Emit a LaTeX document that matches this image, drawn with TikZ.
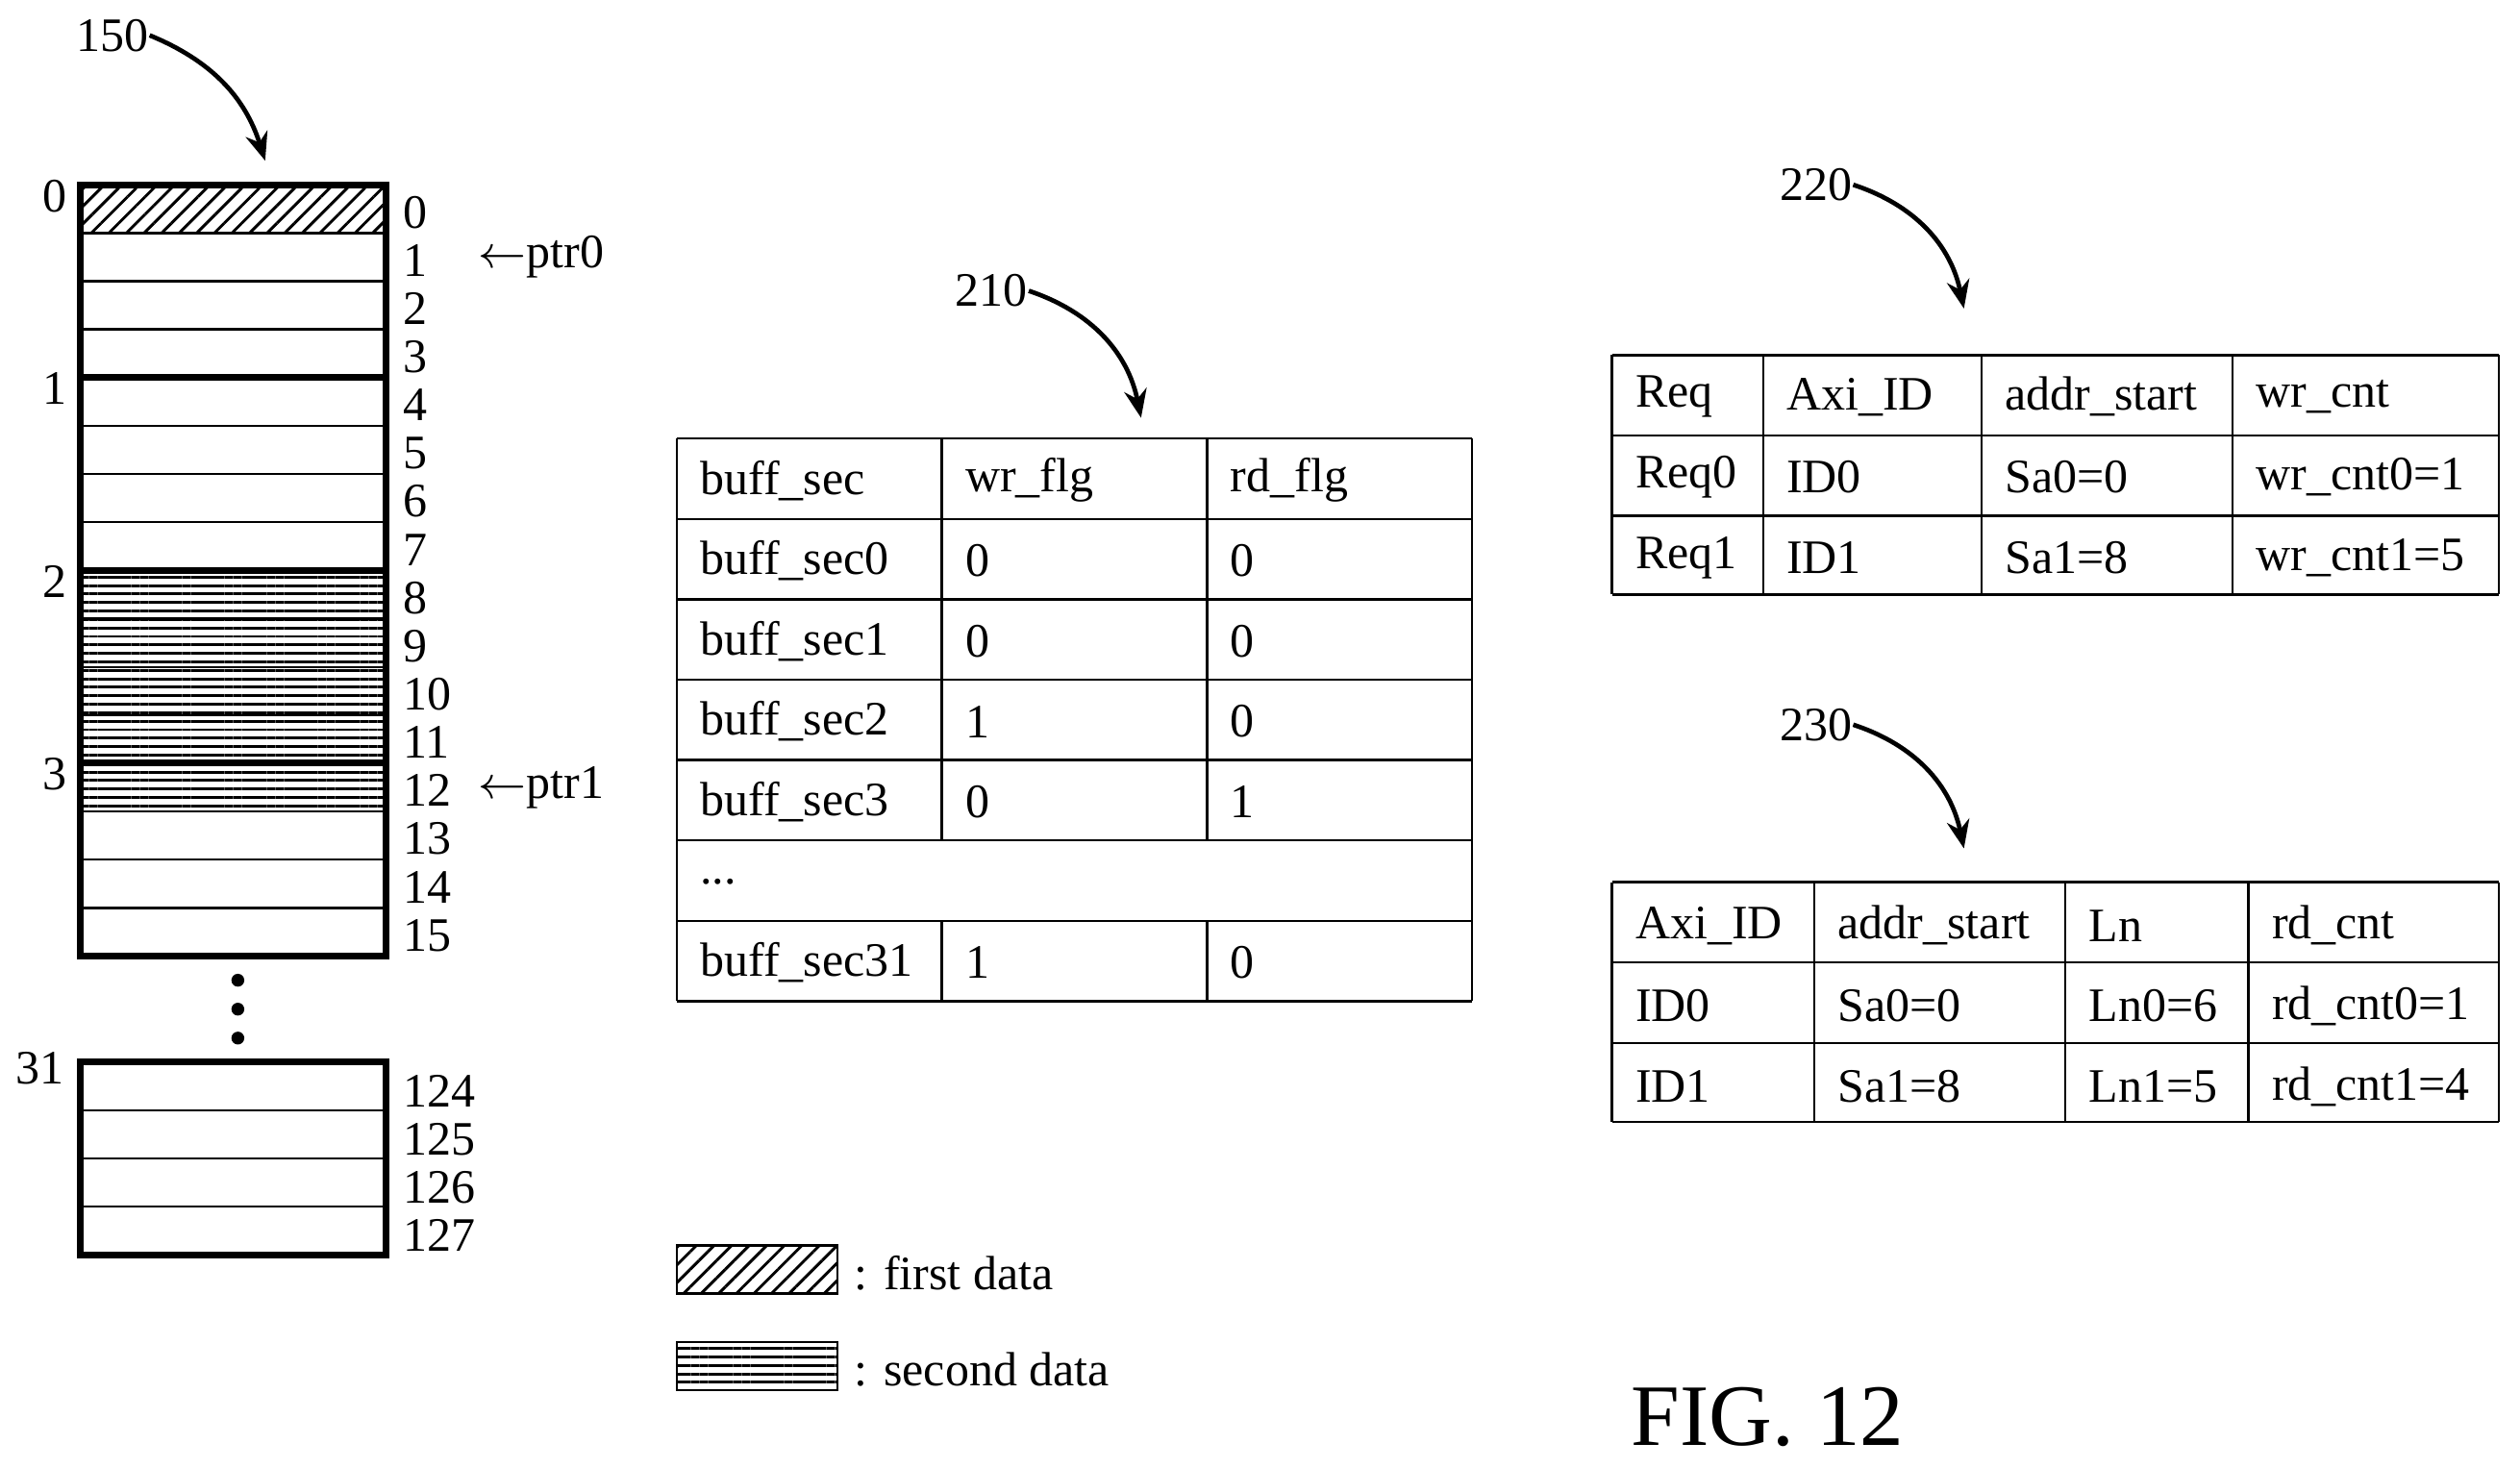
\documentclass[tikz,border=0pt]{standalone}
\usepackage{fontspec}
\setmainfont{Liberation Serif}
\usetikzlibrary{positioning,arrows.meta,patterns.meta}
\tikzset{
  txt/.style={font=\fontsize{8.5}{10}\selectfont, inner sep=0pt},
  cell/.style={txt, anchor=west},
  num/.style={txt, anchor=west},
  ref/.style={-{Stealth[length=5pt,width=4pt]}, thick},
  first/.style={pattern={Lines[angle=45,distance=2.2pt,line width=0.5pt]}},
  second/.style={pattern={Lines[angle=0,distance=1.5pt,line width=0.5pt]}},
}
\begin{document}
\begin{tikzpicture}[x=0.01cm,y=-0.01cm]
  \useasboundingbox (0,0) rectangle (1568,913);

  % memory 150
  \fill[first] (50,115) rectangle (240,145);
  \fill[second] (50,355) rectangle (240,505);
  \foreach \i in {0,...,15} {
    \draw (50,115+30*\i) rectangle (240,145+30*\i);
    \node[num] (m\i) at (250,132+30*\i) {\i};
  }
  \foreach \i in {0,...,4} \draw[very thick] (50,115+120*\i) -- (240,115+120*\i);
  \draw[very thick] (50,115) rectangle (240,595);
  \foreach \i/\s in {0/0,1/1,2/2,3/3} \node[txt] (s\i) at (34,122+120*\i) {\s};
  \node[num] (p0) at (297,160) {$\leftarrow$ptr0};
  \node[num] (p1) at (297,490) {$\leftarrow$ptr1};
  \foreach \y in {610,628,646} \fill (148,\y) circle (4);
  \node[txt] (s31) at (25,665) {31};
  \foreach \i/\n in {0/124,1/125,2/126,3/127} {
    \draw (50,661+30*\i) rectangle (240,691+30*\i);
    \node[num] (n\n) at (250,679+30*\i) {\n};
  }
  \draw[very thick] (50,661) rectangle (240,781);
  \node[txt] (l150) at (70,22) {150};
  \coordinate (a150) at (165,100);
  \draw[ref] (l150.east) to[bend left=25] (a150);

  % table 210
  \foreach \y in {273,323,373,423,473,523,573,623} \draw (421,\y) -- (916,\y);
  \draw (421,273) -- (421,623) (916,273) -- (916,623);
  \draw (586,273) -- (586,523) (751,273) -- (751,523);
  \draw (586,573) -- (586,623) (751,573) -- (751,623);
  \foreach \r/\a/\b/\c in {0/buff\_sec/wr\_flg/rd\_flg, 1/buff\_sec0/0/0, 2/buff\_sec1/0/0,
      3/buff\_sec2/1/0, 4/buff\_sec3/0/1, 6/buff\_sec31/1/0} {
    \node[cell] at (435,299+50*\r) {\a};
    \node[cell] at (600,299+50*\r) {\b};
    \node[cell] at (765,299+50*\r) {\c};
  }
  \node[cell] at (435,549) {...};
  \node[txt] (l210) at (617,181) {210};
  \coordinate (a210) at (710,260);
  \draw[ref] (l210.east) to[bend left=30] (a210);

  % table 220
  \foreach \y in {221,271,321,370} \draw (1003,\y) -- (1555,\y);
  \foreach \x in {1003,1097,1233,1389,1555} \draw (\x,221) -- (\x,370);
  \foreach \r/\a/\b/\c/\d in {0/Req/Axi\_ID/addr\_start/wr\_cnt, 1/Req0/ID0/Sa0=0/wr\_cnt0=1,
      2/Req1/ID1/Sa1=8/wr\_cnt1=5} {
    \node[cell] at (1017,247+50*\r) {\a};
    \node[cell] at (1111,247+50*\r) {\b};
    \node[cell] at (1247,247+50*\r) {\c};
    \node[cell] at (1403,247+50*\r) {\d};
  }
  \node[txt] (l220) at (1130,115) {220};
  \coordinate (a220) at (1222,192);
  \draw[ref] (l220.east) to[bend left=30] (a220);

  % table 230
  \foreach \y in {549,599,649,698} \draw (1003,\y) -- (1555,\y);
  \foreach \x in {1003,1129,1285,1399,1555} \draw (\x,549) -- (\x,698);
  \foreach \r/\a/\b/\c/\d in {0/Axi\_ID/addr\_start/Ln/rd\_cnt, 1/ID0/Sa0=0/Ln0=6/rd\_cnt0=1,
      2/ID1/Sa1=8/Ln1=5/rd\_cnt1=4} {
    \node[cell] at (1017,576+50*\r) {\a};
    \node[cell] at (1143,576+50*\r) {\b};
    \node[cell] at (1299,576+50*\r) {\c};
    \node[cell] at (1413,576+50*\r) {\d};
  }
  \node[txt] (l230) at (1130,451) {230};
  \coordinate (a230) at (1222,528);
  \draw[ref] (l230.east) to[bend left=30] (a230);

  % legend
  \draw[first] (421,775) rectangle (521,805);
  \draw[second] (421,835) rectangle (521,865);
  \node[cell] (lg1) at (531,792) {: first data};
  \node[cell] (lg2) at (531,852) {: second data};

  \node[txt, font=\fontsize{15.5}{18}\selectfont] (fig) at (1100,882) {FIG. 12};
\end{tikzpicture}
\end{document}
